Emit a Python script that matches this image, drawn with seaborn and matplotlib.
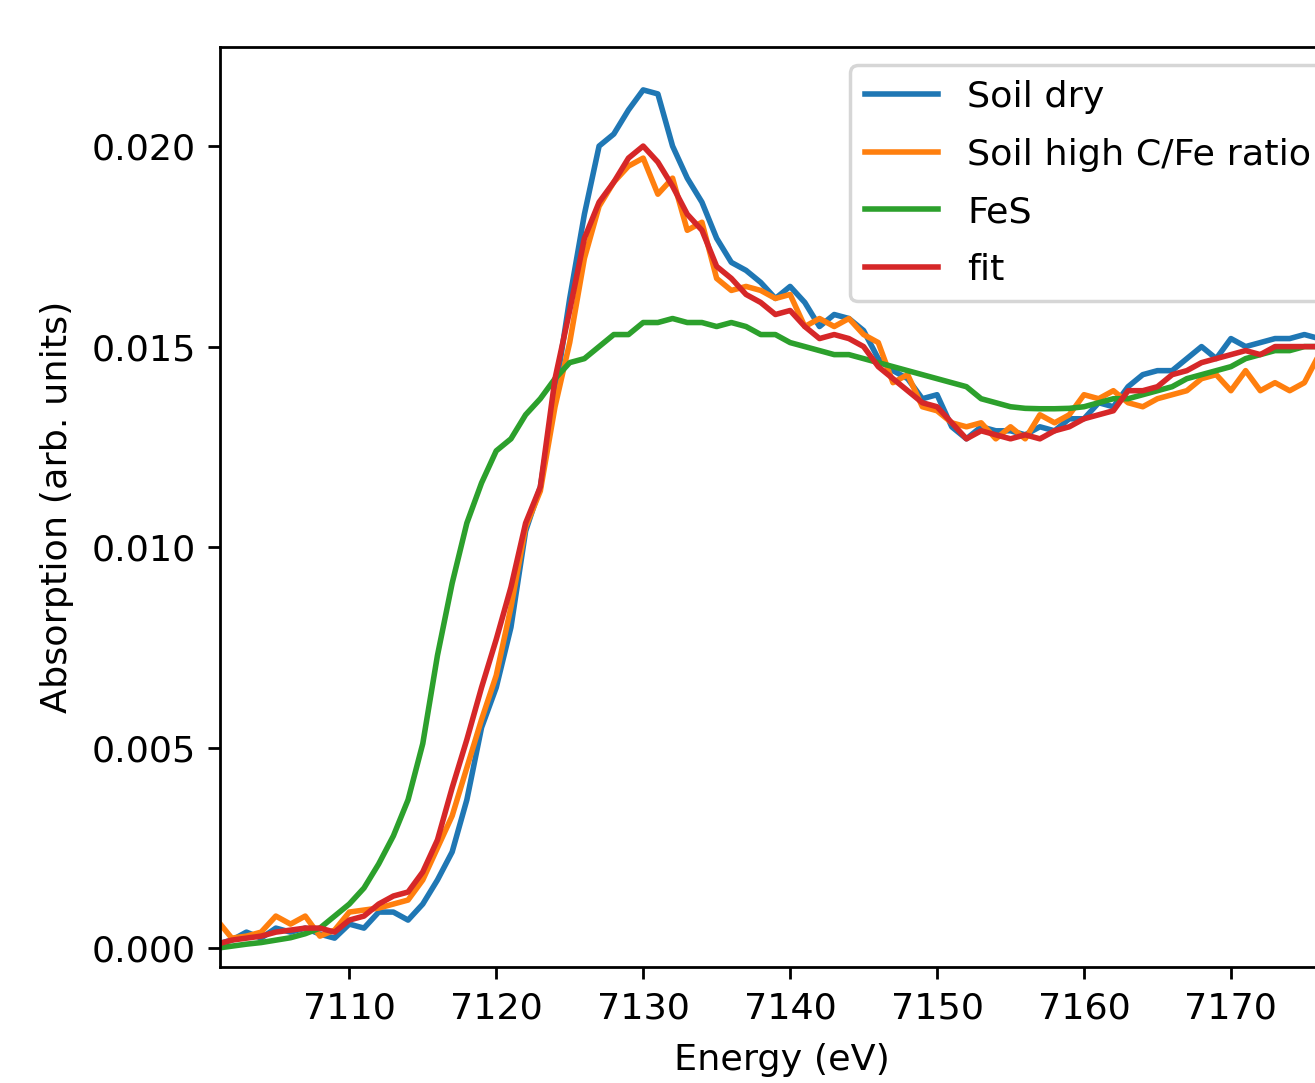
import numpy as np
import pandas as pd
import seaborn as sns
import matplotlib
matplotlib.use("Agg")
import matplotlib.pyplot as plt

# Energy grid (eV)
energy = [7101, 7102, 7103, 7104, 7105, 7106, 7107, 7108, 7109, 7110,
          7111, 7112, 7113, 7114, 7115, 7116, 7117, 7118, 7119, 7120,
          7121, 7122, 7123, 7124, 7125, 7126, 7127, 7128, 7129, 7130,
          7131, 7132, 7133, 7134, 7135, 7136, 7137, 7138, 7139, 7140,
          7141, 7142, 7143, 7144, 7145, 7146, 7147, 7148, 7149, 7150,
          7151, 7152, 7153, 7154, 7155, 7156, 7157, 7158, 7159, 7160,
          7161, 7162, 7163, 7164, 7165, 7166, 7167, 7168, 7169, 7170,
          7171, 7172, 7173, 7174, 7175, 7176, 7177, 7178]

soil_dry = [0.0001, 0.0002, 0.0004, 0.00025, 0.0005, 0.0004, 0.0005, 0.00035, 0.00025, 0.0006,
            0.0005, 0.0009, 0.0009, 0.0007, 0.0011, 0.0017, 0.0024, 0.0037, 0.0055, 0.0065,
            0.0080, 0.0104, 0.0115, 0.0138, 0.0162, 0.0183, 0.0200, 0.0203, 0.0209, 0.0214,
            0.0213, 0.0200, 0.0192, 0.0186, 0.0177, 0.0171, 0.0169, 0.0166, 0.0162, 0.0165,
            0.0161, 0.0155, 0.0158, 0.0157, 0.0154, 0.0147, 0.0144, 0.0142, 0.0137, 0.0138,
            0.0130, 0.0127, 0.0130, 0.0129, 0.0129, 0.0128, 0.0130, 0.0129, 0.0132, 0.0132,
            0.0136, 0.0135, 0.0140, 0.0143, 0.0144, 0.0144, 0.0147, 0.0150, 0.0147, 0.0152,
            0.0150, 0.0151, 0.0152, 0.0152, 0.0153, 0.0152, 0.0153, 0.0152]

soil_high_cfe = [0.0007, 0.00025, 0.0003, 0.0004, 0.0008, 0.0006, 0.0008, 0.0003, 0.00045, 0.0009,
                 0.00095, 0.0010, 0.0011, 0.0012, 0.0017, 0.0025, 0.0033, 0.0045, 0.0057, 0.0068,
                 0.0085, 0.0105, 0.0114, 0.0135, 0.0151, 0.0172, 0.0185, 0.0191, 0.0195, 0.0197,
                 0.0188, 0.0192, 0.0179, 0.0181, 0.0167, 0.0164, 0.0165, 0.0164, 0.0162, 0.0163,
                 0.0155, 0.0157, 0.0155, 0.0157, 0.0153, 0.0151, 0.0141, 0.0143, 0.0135, 0.0134,
                 0.0131, 0.0130, 0.0131, 0.0127, 0.0130, 0.0127, 0.0133, 0.0131, 0.0133, 0.0138,
                 0.0137, 0.0139, 0.0136, 0.0135, 0.0137, 0.0138, 0.0139, 0.0142, 0.0143, 0.0139,
                 0.0144, 0.0139, 0.0141, 0.0139, 0.0141, 0.0148, 0.0152, 0.0154]

fes = [0.0000, 0.00005, 0.0001, 0.00014, 0.0002, 0.00026, 0.00036, 0.0005, 0.0008, 0.0011,
       0.0015, 0.0021, 0.0028, 0.0037, 0.0051, 0.0073, 0.0091, 0.0106, 0.0116, 0.0124,
       0.0127, 0.0133, 0.0137, 0.0142, 0.0146, 0.0147, 0.0150, 0.0153, 0.0153, 0.0156,
       0.0156, 0.0157, 0.0156, 0.0156, 0.0155, 0.0156, 0.0155, 0.0153, 0.0153, 0.0151,
       0.0150, 0.0149, 0.0148, 0.0148, 0.0147, 0.0146, 0.0145, 0.0144, 0.0143, 0.0142,
       0.0141, 0.0140, 0.0137, 0.0136, 0.0135, 0.01346, 0.01345, 0.01345, 0.01346, 0.0135,
       0.0136, 0.0137, 0.0137, 0.0138, 0.0139, 0.0140, 0.0142, 0.0143, 0.0144, 0.0145,
       0.0147, 0.0148, 0.0149, 0.0149, 0.0150, 0.0150, 0.0150, 0.0150]

fit = [0.0001, 0.0002, 0.00025, 0.0003, 0.0004, 0.00045, 0.0005, 0.0005, 0.0004, 0.0007,
       0.0008, 0.0011, 0.0013, 0.0014, 0.0019, 0.0027, 0.0040, 0.0052, 0.0065, 0.0077,
       0.0090, 0.0106, 0.0115, 0.0142, 0.0159, 0.0177, 0.0186, 0.0191, 0.0197, 0.0200,
       0.0196, 0.0190, 0.0183, 0.0179, 0.0170, 0.0167, 0.0163, 0.0161, 0.0158, 0.0159,
       0.0155, 0.0152, 0.0153, 0.0152, 0.0150, 0.0145, 0.0142, 0.0139, 0.0136, 0.0135,
       0.0131, 0.0127, 0.0129, 0.0128, 0.0127, 0.0128, 0.0127, 0.0129, 0.0130, 0.0132,
       0.0133, 0.0134, 0.0139, 0.0139, 0.0140, 0.0143, 0.0144, 0.0146, 0.0147, 0.0148,
       0.0149, 0.0148, 0.0150, 0.0150, 0.0150, 0.0150, 0.0150, 0.0150]

labels = ["Soil dry", "Soil high C/Fe ratio", "FeS", "fit"]

# long-form table for seaborn
df = pd.concat([
    pd.DataFrame({"energy": energy, "absorption": vals, "sample": lab})
    for lab, vals in zip(labels, [soil_dry, soil_high_cfe, fes, fit])
])

plt.rcParams["font.size"] = 10.5

fig = plt.figure(figsize=(1315 / 250, 1083 / 250), dpi=250)
# axes run past the right edge, like the cropped original
ax = fig.add_axes([0.1673, 0.1071, 0.8548, 0.8495])

sns.lineplot(data=df, x="energy", y="absorption", hue="sample",
             hue_order=labels, palette="tab10", linewidth=1.6, ax=ax)

ax.set_xlim(7101.2, 7177.7)
ax.set_ylim(-0.00047, 0.02247)
ax.set_xticks([7110, 7120, 7130, 7140, 7150, 7160, 7170])
ax.set_yticks([0.0, 0.005, 0.010, 0.015, 0.020])
ax.set_xlabel("Energy (eV)", labelpad=5)
ax.set_ylabel("Absorption (arb. units)", labelpad=5)
ax.legend(loc="upper right", labelspacing=0.65)

fig.savefig("out.png", dpi=250)
